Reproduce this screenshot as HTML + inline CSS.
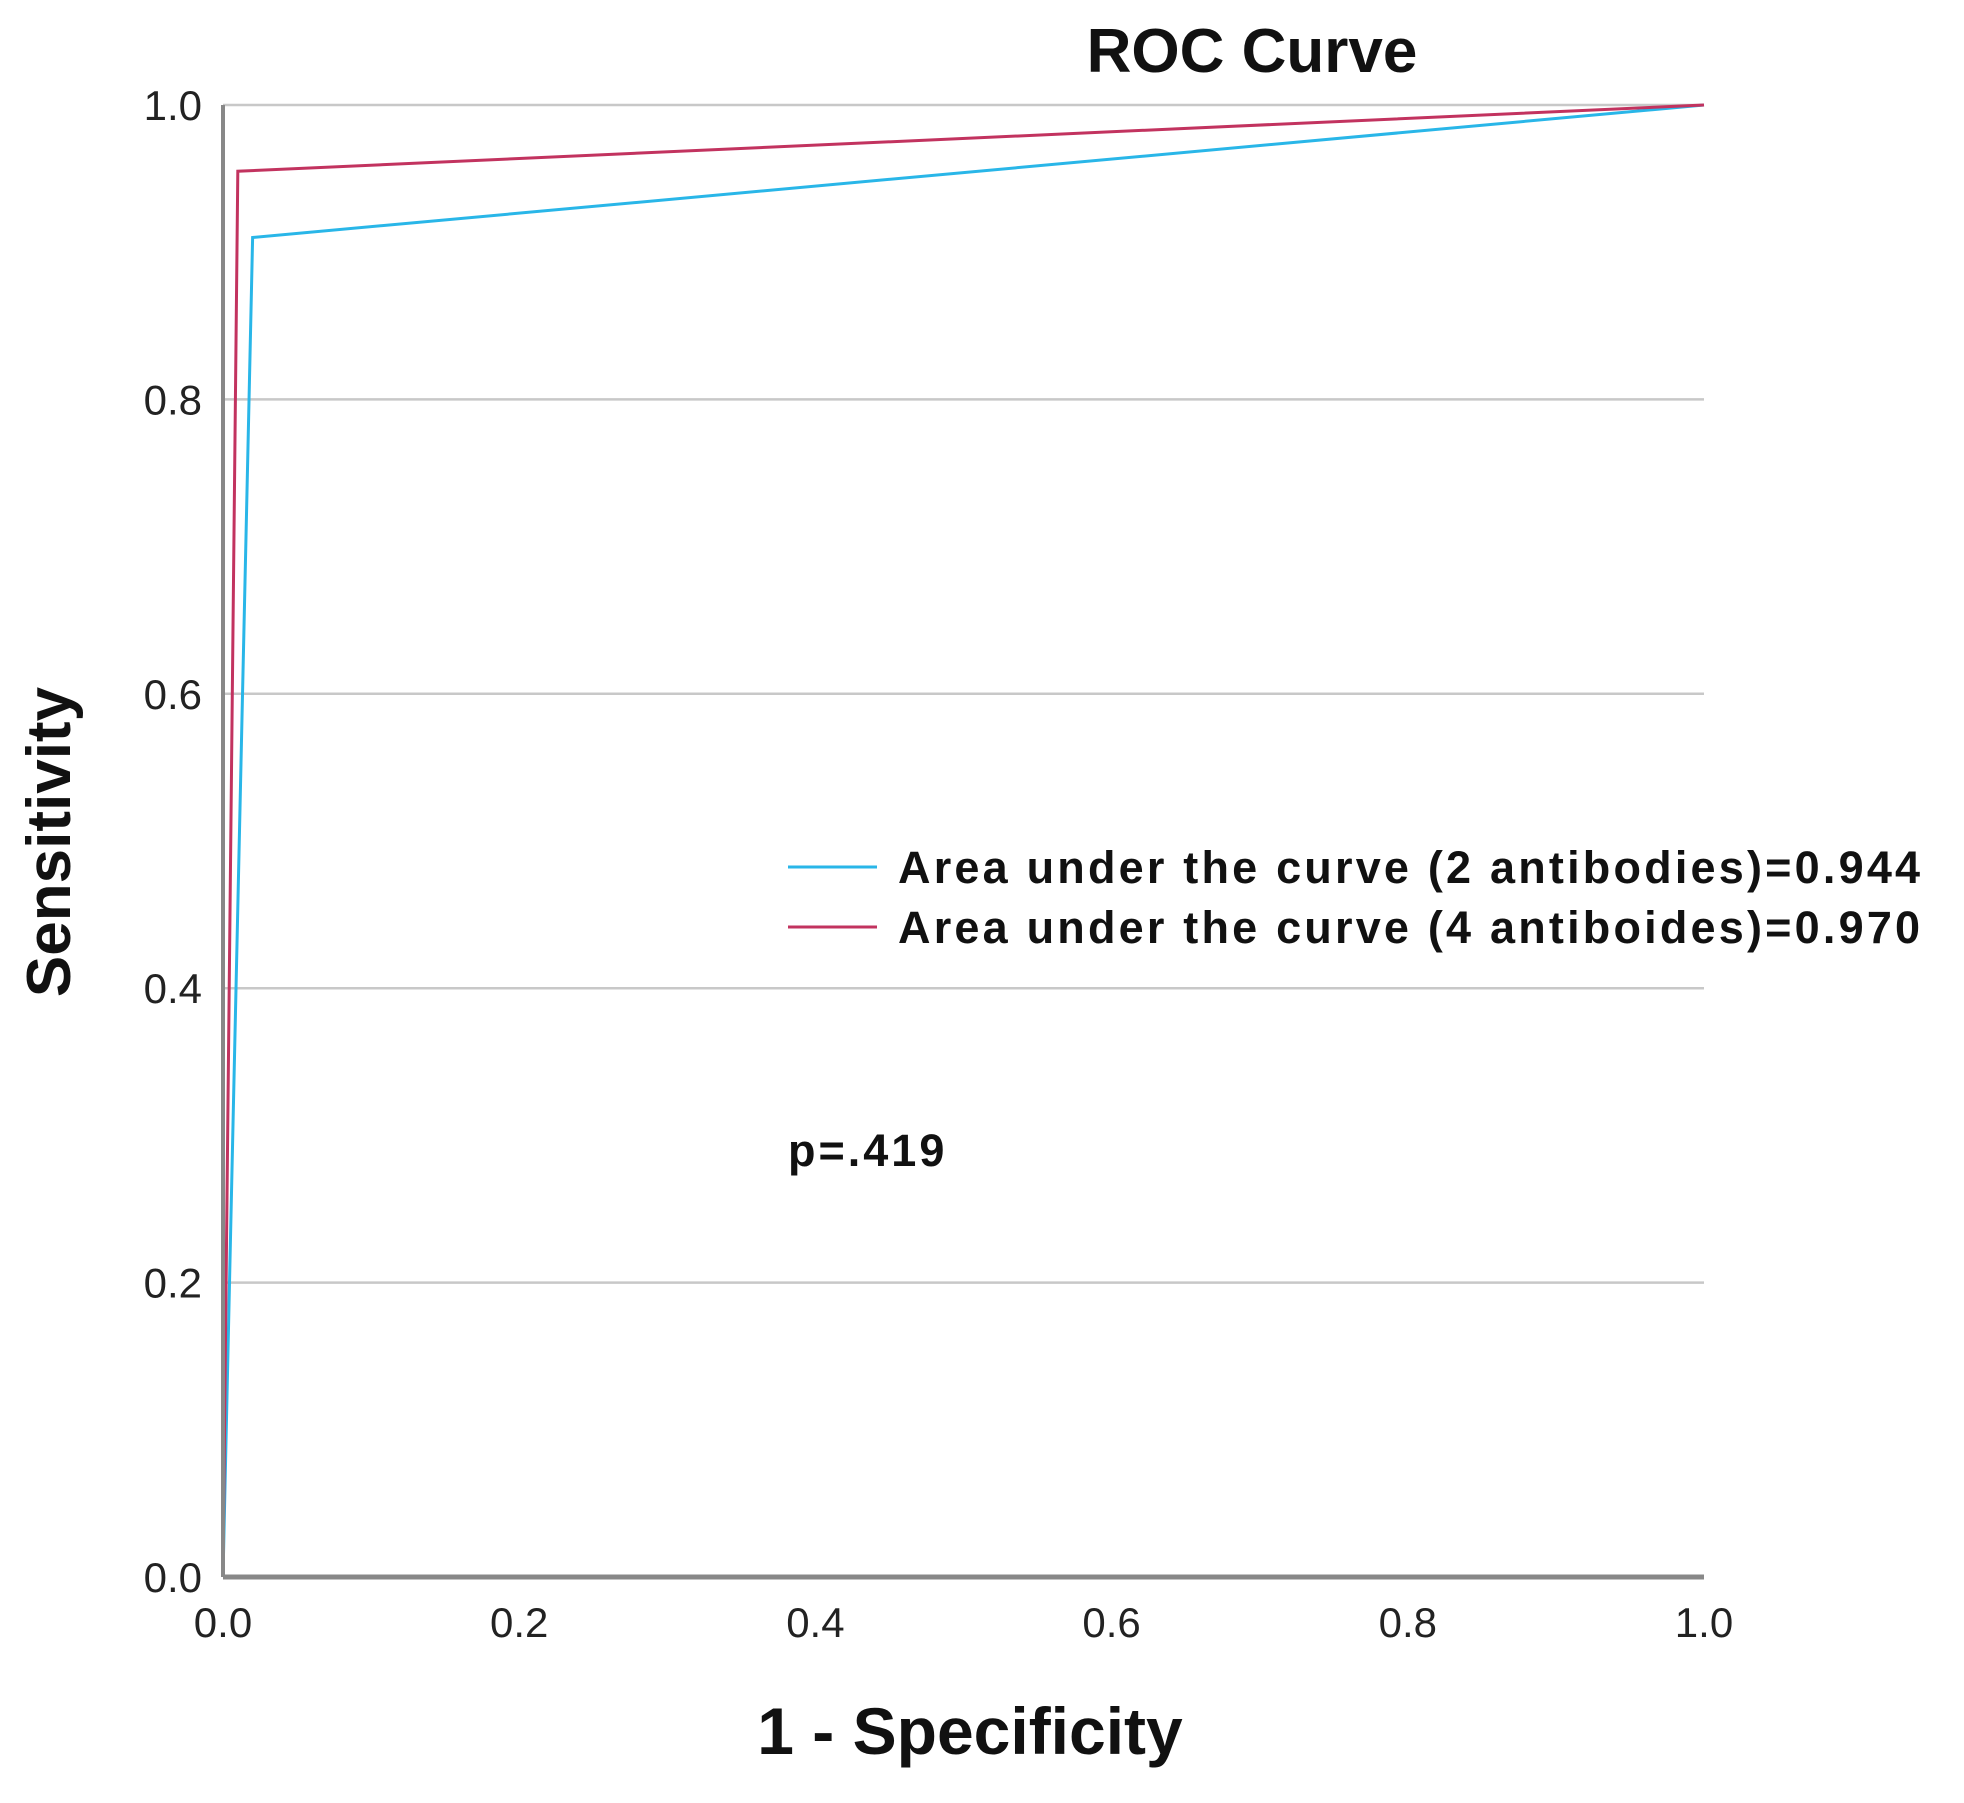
<!DOCTYPE html>
<html><head><meta charset="utf-8"><style>
html,body{margin:0;padding:0;background:#fff;}
svg{display:block;font-family:"Liberation Sans",sans-serif;}
</style></head><body>
<svg id="chart" width="1964" height="1803" viewBox="0 0 1964 1803">
<g id="grid"></g>
<g id="series"></g>
<g id="axes"></g>
<text x="1252" y="72" text-anchor="middle" font-size="62" font-weight="bold" fill="#111">ROC Curve</text>
<text x="970" y="1754" text-anchor="middle" font-size="66" font-weight="bold" fill="#111">1 - Specificity</text>
<text transform="translate(70,842) rotate(-90)" text-anchor="middle" font-size="62" font-weight="bold" fill="#111">Sensitivity</text>
<g>
<line x1="788" y1="867" x2="877" y2="867" stroke="#29b6e8" stroke-width="3"/>
<text x="898" y="883" font-size="45" font-weight="bold" letter-spacing="3.2" fill="#111">Area under the curve (2 antibodies)=0.944</text>
<line x1="788" y1="927" x2="877" y2="927" stroke="#c2335f" stroke-width="3"/>
<text x="898" y="943" font-size="45" font-weight="bold" letter-spacing="3.2" fill="#111">Area under the curve (4 antiboides)=0.970</text>
</g>
<text x="788" y="1166" font-size="45" font-weight="bold" letter-spacing="3" fill="#111">p=.419</text>
</svg>
<script>
const xTicks=[0,0.2,0.4,0.6,0.8,1.0];
const yTicks=[0,0.2,0.4,0.6,0.8,1.0];
const tickLabels=["0.0","0.2","0.4","0.6","0.8","1.0"];
const fpr2=[0,0.02,1];
const tpr2=[0,0.91,1];
const fpr4=[0,0.01,1];
const tpr4=[0,0.955,1];
const NS="http://www.w3.org/2000/svg";
const X0=223,X1=1704,Y0=1577,Y1=105;
function sx(v){return X0+v*(X1-X0);}
function sy(v){return Y0-v*(Y0-Y1);}
function mk(tag,attrs,parent){const e=document.createElementNS(NS,tag);for(const k in attrs)e.setAttribute(k,attrs[k]);parent.appendChild(e);return e;}
const grid=document.getElementById('grid'),axes=document.getElementById('axes'),series=document.getElementById('series');
yTicks.forEach((t,i)=>{
  if(t>0){const g=mk('line',{x1:X0,x2:X1,y1:sy(t),y2:sy(t),stroke:'#c8c8c8','stroke-width':2.5},grid);
  
  }
  const l=mk('text',{x:202,y:sy(t)+15,'text-anchor':'end','font-size':42,fill:'#222'},axes);
  l.textContent=tickLabels[i];
  
  
});
xTicks.forEach((t,i)=>{
  const l=mk('text',{x:sx(t),y:1637,'text-anchor':'middle','font-size':42,fill:'#222'},axes);
  l.textContent=tickLabels[i];
  
  
});
const ya=mk('line',{x1:X0,x2:X0,y1:Y1,y2:Y0,stroke:'#888','stroke-width':4},axes);


const xa=mk('line',{x1:X0,x2:X1,y1:Y0,y2:Y0,stroke:'#888','stroke-width':5},axes);


function path(xs,ys){return xs.map((v,i)=>(i?'L':'M')+sx(v)+','+sy(ys[i])).join(' ');}
const p2=mk('path',{d:path(fpr2,tpr2),fill:'none',stroke:'#29b6e8','stroke-width':3},series);


const p4=mk('path',{d:path(fpr4,tpr4),fill:'none',stroke:'#c2335f','stroke-width':3},series);


</script>
</body></html>
